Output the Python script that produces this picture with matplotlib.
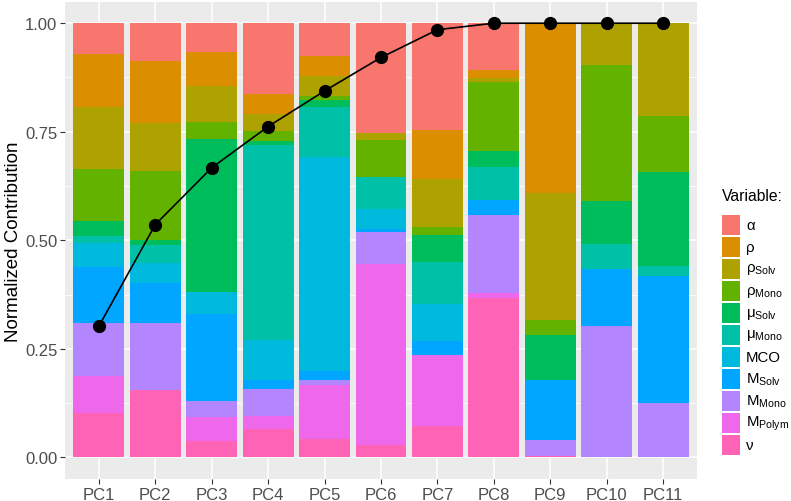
import numpy as np
import matplotlib
matplotlib.use("Agg")
import matplotlib.pyplot as plt
from matplotlib.patches import Rectangle
from matplotlib.ticker import MultipleLocator

plt.rcParams["font.family"] = ["Liberation Sans", "DejaVu Sans"]
plt.rcParams["mathtext.fontset"] = "custom"
plt.rcParams["mathtext.rm"] = "Liberation Sans"
plt.rcParams["mathtext.it"] = "Liberation Sans:italic"
plt.rcParams["mathtext.bf"] = "Liberation Sans:bold"

pcs = ["PC1", "PC2", "PC3", "PC4", "PC5", "PC6", "PC7", "PC8", "PC9", "PC10", "PC11"]

# legend order (top of stack first)
var_labels = ["α", "ρ", "ρ$_{\\mathrm{Solv}}$", "ρ$_{\\mathrm{Mono}}$", "μ$_{\\mathrm{Solv}}$",
              "μ$_{\\mathrm{Mono}}$", "MCO", "M$_{\\mathrm{Solv}}$", "M$_{\\mathrm{Mono}}$",
              "M$_{\\mathrm{Polym}}$", "ν"]
colors = ["#F8766D", "#DB8E00", "#AEA200", "#64B200", "#00BD5C", "#00C1A7",
          "#00BADE", "#00A6FF", "#B385FF", "#EF67EB", "#FF63B6"]

alpha    = [0.071, 0.088, 0.066, 0.163, 0.076, 0.253, 0.247, 0.107, 0.000, 0.000, 0.000]
rho      = [0.121, 0.142, 0.078, 0.046, 0.046, 0.000, 0.113, 0.019, 0.390, 0.000, 0.000]
rho_solv = [0.144, 0.111, 0.083, 0.040, 0.045, 0.015, 0.110, 0.009, 0.294, 0.096, 0.214]
rho_mono = [0.120, 0.158, 0.040, 0.022, 0.009, 0.086, 0.018, 0.160, 0.035, 0.314, 0.128]
mu_solv  = [0.034, 0.011, 0.352, 0.009, 0.016, 0.000, 0.063, 0.037, 0.102, 0.097, 0.217]
mu_mono  = [0.015, 0.042, 0.000, 0.449, 0.117, 0.075, 0.096, 0.075, 0.000, 0.058, 0.023]
mco      = [0.055, 0.047, 0.050, 0.091, 0.492, 0.044, 0.085, 0.000, 0.000, 0.000, 0.000]
m_solv   = [0.131, 0.090, 0.200, 0.021, 0.021, 0.008, 0.033, 0.035, 0.139, 0.131, 0.293]
m_mono   = [0.121, 0.155, 0.038, 0.062, 0.012, 0.074, 0.000, 0.180, 0.038, 0.303, 0.124]
m_polym  = [0.086, 0.000, 0.055, 0.031, 0.123, 0.417, 0.163, 0.012, 0.000, 0.000, 0.000]
nu       = [0.101, 0.155, 0.037, 0.065, 0.043, 0.028, 0.072, 0.366, 0.002, 0.000, 0.000]

cumulative = [0.302, 0.536, 0.667, 0.762, 0.844, 0.921, 0.985, 1.0, 1.0, 1.0, 1.0]

series = [alpha, rho, rho_solv, rho_mono, mu_solv, mu_mono, mco, m_solv, m_mono, m_polym, nu]
data = np.array(series, dtype=float)
data = data / data.sum(axis=0, keepdims=True)

W, H = 791, 502
fig = plt.figure(figsize=(W / 100, H / 100), dpi=100)
px0, px1, py0, py1 = 65, 697, 2.5, 480
ax = fig.add_axes([px0 / W, 1 - py1 / H, (px1 - px0) / W, (py1 - py0) / H])
ax.set_facecolor("#EBEBEB")

x = np.arange(len(pcs))
bottom = np.zeros(len(pcs))
# stack from bottom (last legend entry) upward
for vals, col in zip(data[::-1], colors[::-1]):
    ax.bar(x, vals, width=0.9, bottom=bottom, color=col, linewidth=0, zorder=2)
    bottom += vals

ax.plot(x, cumulative, color="black", lw=1.2, zorder=3)
ax.plot(x, cumulative, "o", color="black", ms=8.5, zorder=4)

ax.set_xlim(-0.6, len(pcs) - 0.4)
ax.set_ylim(-0.05, 1.05)
ax.set_xticks(x)
ax.set_xticklabels(pcs)
ax.set_yticks([0, 0.25, 0.5, 0.75, 1.0])
ax.set_yticklabels(["0.00", "0.25", "0.50", "0.75", "1.00"])
ax.yaxis.set_minor_locator(MultipleLocator(0.125))
ax.grid(True, which="major", color="white", lw=1.1, zorder=0)
ax.grid(True, which="minor", axis="y", color="white", lw=0.55, zorder=0)
ax.set_axisbelow(True)
for s in ax.spines.values():
    s.set_visible(False)
ax.tick_params(axis="both", which="major", length=3.5, width=0.8, color="#333333",
               labelcolor="#4D4D4D", labelsize=12, pad=2)
ax.tick_params(axis="both", which="minor", length=0)
ax.set_ylabel("Normalized Contribution", fontsize=13.5, color="black")
ax.yaxis.set_label_coords(-0.068, 0.5)

# legend drawn manually in figure pixel coordinates
fig.text(722 / W, 1 - 197 / H, "Variable:", fontsize=11.3, ha="left", va="center")
for i, (lab, col) in enumerate(zip(var_labels, colors)):
    top = 216 + 22 * i
    fig.add_artist(Rectangle((722 / W, 1 - (top + 20) / H), 18 / W, 20 / H,
                             transform=fig.transFigure, facecolor=col, edgecolor="none"))
    fig.text(746 / W, 1 - (top + 10) / H, lab, fontsize=10.8, ha="left", va="center")

fig.savefig("out.png", dpi=100)
